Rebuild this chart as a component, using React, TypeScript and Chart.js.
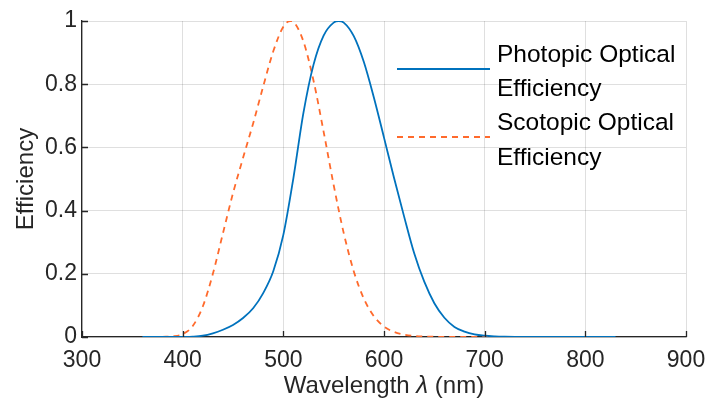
import React, { useEffect, useRef } from "react";
import { Chart, registerables } from "chart.js";

Chart.register(...registerables);

// CIE photopic luminous efficiency V(λ)
const photopicWavelength = [360, 370, 380, 390, 400, 410, 420, 430, 440, 450, 460, 470, 480, 490, 500, 510, 520, 530, 540, 550, 555, 560, 570, 580, 590, 600, 610, 620, 630, 640, 650, 660, 670, 680, 690, 700, 710, 720, 730, 740, 750, 760, 770, 780, 790, 800, 810, 820, 830];
const photopicEfficiency = [0.0000039, 0.000012, 0.000039, 0.00012, 0.000396, 0.00121, 0.004, 0.0116, 0.023, 0.038, 0.06, 0.091, 0.139, 0.208, 0.323, 0.503, 0.71, 0.862, 0.954, 0.995, 1.0, 0.995, 0.952, 0.87, 0.757, 0.631, 0.503, 0.381, 0.265, 0.175, 0.107, 0.061, 0.032, 0.017, 0.0082, 0.0041, 0.0021, 0.00105, 0.00052, 0.00025, 0.00012, 0.00006, 0.00003, 0.000015, 0.0000075, 0.0000037, 0.0000019, 0.0000009, 0.0000005];

// CIE scotopic luminous efficiency V'(λ)
const scotopicWavelength = [380, 390, 400, 410, 420, 430, 440, 450, 460, 470, 480, 490, 500, 507, 510, 520, 530, 540, 550, 560, 570, 580, 590, 600, 610, 620, 630, 640, 650, 660, 670, 680, 690, 700, 710, 720, 730, 740, 750, 760, 770, 780];
const scotopicEfficiency = [0.000589, 0.002209, 0.00929, 0.03484, 0.0966, 0.1998, 0.3281, 0.455, 0.567, 0.676, 0.793, 0.904, 0.982, 1.0, 0.997, 0.935, 0.811, 0.65, 0.481, 0.3288, 0.2076, 0.1212, 0.0655, 0.03315, 0.01593, 0.00737, 0.003335, 0.001497, 0.000677, 0.000313, 0.000148, 0.0000715, 0.0000353, 0.0000178, 0.0000091, 0.0000048, 0.0000025, 0.0000014, 0.00000076, 0.00000043, 0.00000024, 0.00000014];

const seriesNames = ["Photopic Optical Efficiency", "Scotopic Optical Efficiency"];
const legendLines = [["Photopic Optical", "Efficiency"], ["Scotopic Optical", "Efficiency"]];
const xTicks = [300, 400, 500, 600, 700, 800, 900];
const yTicks = [0, 0.2, 0.4, 0.6, 0.8, 1];
const xTitleParts = ["Wavelength ", "λ", " (nm)"];
const yTitle = "Efficiency";

const BLUE = "#0072BD";
const ORANGE = "#FF6A2C";
const AXIS = "#262626";
const FONT = "'Liberation Sans', Arial, Helvetica, sans-serif";

const decorPlugin = {
  id: "decor",
  afterDraw(chart: any) {
    const ctx = chart.ctx as CanvasRenderingContext2D;
    const area = chart.chartArea;
    const xs = chart.scales.x;
    const ys = chart.scales.y;
    ctx.save();
    // inward ticks
    ctx.strokeStyle = AXIS;
    ctx.lineWidth = 1.3;
    ctx.beginPath();
    for (const t of xTicks) {
      const px = Math.round(xs.getPixelForValue(t)) + 0.5;
      ctx.moveTo(px, area.bottom);
      ctx.lineTo(px, area.bottom - 6);
    }
    for (const t of yTicks) {
      const py = Math.round(ys.getPixelForValue(t)) + 0.5;
      ctx.moveTo(area.left, py);
      ctx.lineTo(area.left + 6, py);
    }
    ctx.stroke();

    // x title with italic lambda
    ctx.fillStyle = AXIS;
    ctx.textBaseline = "alphabetic";
    const fonts = [`24px ${FONT}`, `italic 24px ${FONT}`, `24px ${FONT}`];
    let total = 0;
    const widths = xTitleParts.map((p, i) => {
      ctx.font = fonts[i];
      const w = ctx.measureText(p).width;
      total += w;
      return w;
    });
    let cx = (area.left + area.right) / 2 - total / 2;
    const by = area.bottom + 56;
    xTitleParts.forEach((p, i) => {
      ctx.font = fonts[i];
      ctx.textAlign = "left";
      ctx.fillText(p, cx, by);
      cx += widths[i];
    });

    // y title
    ctx.save();
    ctx.translate(area.left - 49, (area.top + area.bottom) / 2);
    ctx.rotate(-Math.PI / 2);
    ctx.font = `24px ${FONT}`;
    ctx.textAlign = "center";
    ctx.fillText(yTitle, 0, 0);
    ctx.restore();

    // legend
    const lx0 = area.left + 315;
    const lx1 = area.left + 408;
    const tx = area.left + 415;
    const colors = [BLUE, ORANGE];
    const dashes: number[][] = [[], [6, 5]];
    const lineY = [area.top + 48, area.top + 116];
    const baselines = [[area.top + 41, area.top + 75], [area.top + 109, area.top + 144]];
    ctx.font = `24.5px ${FONT}`;
    ctx.textAlign = "left";
    for (let i = 0; i < 2; i++) {
      ctx.strokeStyle = colors[i];
      ctx.lineWidth = 1.8;
      ctx.setLineDash(dashes[i]);
      ctx.beginPath();
      ctx.moveTo(lx0, lineY[i]);
      ctx.lineTo(lx1, lineY[i]);
      ctx.stroke();
      ctx.setLineDash([]);
      ctx.fillStyle = "#000000";
      legendLines[i].forEach((txt, j) => ctx.fillText(txt, tx, baselines[i][j]));
    }
    ctx.restore();
  },
};

export default function App() {
  const ref = useRef<HTMLCanvasElement | null>(null);
  useEffect(() => {
    document.body.style.margin = "0";
    const canvas = ref.current!;
    const chart = new Chart(canvas, {
      type: "line",
      data: {
        datasets: [
          {
            label: seriesNames[0],
            data: photopicWavelength.map((x, i) => ({ x, y: photopicEfficiency[i] })),
            borderColor: BLUE,
            borderWidth: 1.8,
            pointRadius: 0,
            cubicInterpolationMode: "monotone",
            fill: false,
          },
          {
            label: seriesNames[1],
            data: scotopicWavelength.map((x, i) => ({ x, y: scotopicEfficiency[i] })),
            borderColor: ORANGE,
            borderWidth: 1.8,
            borderDash: [6, 5],
            pointRadius: 0,
            cubicInterpolationMode: "monotone",
            fill: false,
          },
        ],
      },
      options: {
        animation: false,
        responsive: false,
        devicePixelRatio: 1,
        layout: { padding: { top: 21, right: 22, left: 0, bottom: 0 } },
        plugins: { legend: { display: false }, tooltip: { enabled: false }, title: { display: false } },
        scales: {
          x: {
            type: "linear",
            min: 300,
            max: 900,
            afterBuildTicks: (s: any) => {
              s.ticks = xTicks.map((v) => ({ value: v }));
            },
            afterFit: (s: any) => {
              s.height = 66;
              s.paddingLeft = 0;
              s.paddingRight = 0;
            },
            ticks: {
              color: AXIS,
              font: { size: 23, family: FONT },
              padding: 10,
              maxRotation: 0,
              autoSkip: false,
              callback: (v: any) => String(v),
            },
            grid: { color: "rgba(38,38,38,0.15)", lineWidth: 1, drawTicks: false },
            border: { display: true, color: AXIS, width: 1.3 },
          },
          y: {
            type: "linear",
            min: 0,
            max: 1,
            afterBuildTicks: (s: any) => {
              s.ticks = yTicks.map((v) => ({ value: v }));
            },
            afterFit: (s: any) => {
              s.width = 82;
              s.paddingTop = 0;
              s.paddingBottom = 0;
            },
            ticks: {
              color: AXIS,
              font: { size: 23, family: FONT },
              padding: 5,
              autoSkip: false,
              callback: (v: any) => String(Math.round(Number(v) * 10) / 10),
            },
            grid: { color: "rgba(38,38,38,0.15)", lineWidth: 1, drawTicks: false },
            border: { display: true, color: AXIS, width: 1.3 },
          },
        },
      },
      plugins: [decorPlugin],
    } as any);
    return () => chart.destroy();
  }, []);
  return (
    <div style={{ position: "fixed", left: 0, top: 0, width: 708, height: 403, background: "#fff" }}>
      <canvas ref={ref} width={708} height={403} style={{ display: "block", width: 708, height: 403 }} />
    </div>
  );
}
